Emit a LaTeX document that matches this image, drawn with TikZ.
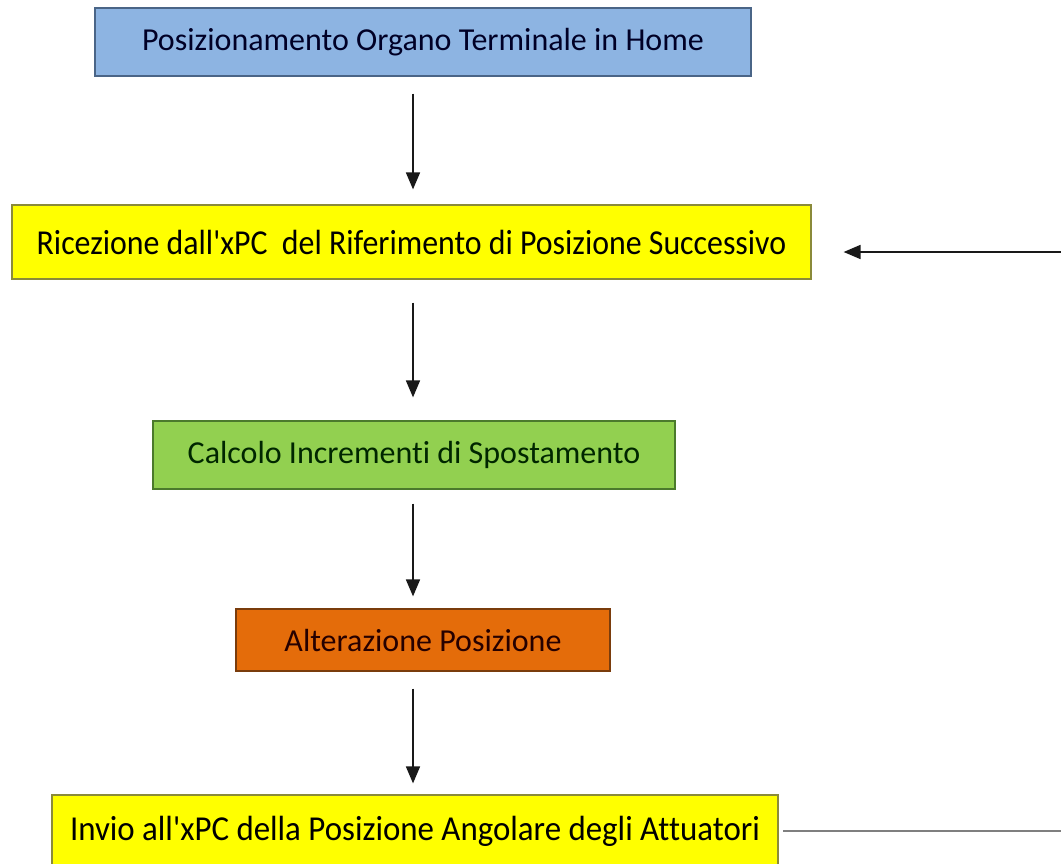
\documentclass[tikz,border=0pt]{standalone}
\usepackage{fontspec}
\setmainfont{Carlito}[Ligatures=NoCommon]
\usetikzlibrary{arrows.meta,positioning,calc}
\definecolor{homeblue}{HTML}{8DB4E2}
\definecolor{homeedge}{HTML}{4A6587}
\definecolor{refyellow}{HTML}{FFFF00}
\definecolor{refedge}{HTML}{8A8A3A}
\definecolor{calcgreen}{HTML}{92D050}
\definecolor{calcedge}{HTML}{4B7A2C}
\definecolor{altorange}{HTML}{E46C0A}
\definecolor{altedge}{HTML}{7A3C0C}
\definecolor{loopgray}{HTML}{7F7F7F}
\tikzset{
  stage/.style={line width=1.2pt, align=center, inner sep=0pt, font=\fontsize{32}{38}\selectfont},
  home/.style={stage, draw=homeedge, fill=homeblue, text=black!85!blue},
  refpos/.style={stage, draw=refedge, fill=refyellow, text=black},
  calc/.style={stage, draw=calcedge, fill=calcgreen, text=black!85!green},
  alter/.style={stage, draw=altedge, fill=altorange, text=black!85!red},
  flow/.style={-{Triangle[length=17pt,width=14pt]}, line width=1.7pt, draw=black!90},
  loopline/.style={line width=1.6pt, draw=loopgray}
}
\begin{document}
\begin{tikzpicture}[x=1pt, y=-1pt]
  \useasboundingbox (0,0) rectangle (1061,863);
  \coordinate (spine) at (413,0);

  \node[home, minimum width=656pt, minimum height=68pt] (home) at (423,42)
  {Posizionamento Organo Terminale in Home};
  \node[refpos, minimum width=799pt, minimum height=74pt] (ricez) at (411.5,242)
  {\scalebox{0.91}[1]{\fontsize{35}{40}\selectfont Ricezione dall\textquotesingle xPC\ \ del Riferimento di Posizione Successivo}};
  \node[calc, minimum width=522pt, minimum height=68pt] (calcolo) at (414,455)
  {Calcolo Incrementi di Spostamento};
  \node[alter, minimum width=374pt, minimum height=62pt] (alteraz) at (423,640)
  {Alterazione Posizione};
  \node[refpos, minimum width=726pt, minimum height=72pt] (invio) at (415,831)
  {\raisebox{3pt}{\scalebox{0.94}[1]{\fontsize{35}{40}\selectfont Invio all\textquotesingle xPC della Posizione Angolare degli Attuatori}}};

  \coordinate (inref) at (1061,252);
  \coordinate (outang) at (1061,831);

  \draw[flow, shorten <=17pt, shorten >=15pt] (home.south -| spine) -- (ricez.north -| spine);
  \draw[flow, shorten <=23pt, shorten >=23pt] (ricez.south -| spine) -- (calcolo.north -| spine);
  \draw[flow, shorten <=14pt, shorten >=12pt] (calcolo.south -| spine) -- (alteraz.north -| spine);
  \draw[flow, shorten <=17pt, shorten >=11pt] (alteraz.south -| spine) -- (invio.north -| spine);
  \draw[flow, shorten >=32pt] (inref) -- (inref -| ricez.east);
  \draw[loopline, shorten >=4pt] (outang) -- (outang -| invio.east);
\end{tikzpicture}
\end{document}
